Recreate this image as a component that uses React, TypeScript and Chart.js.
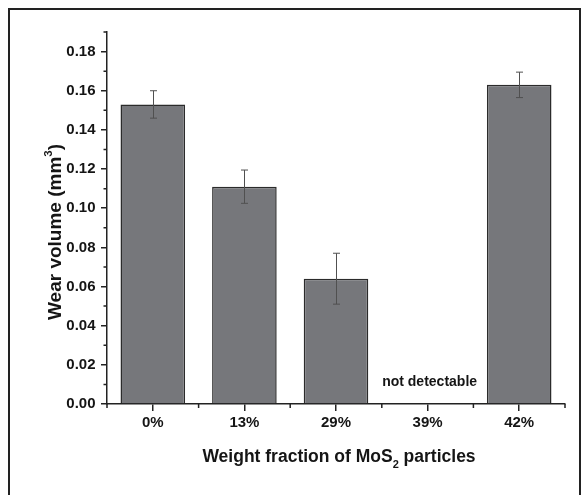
import React, { useEffect, useRef } from "react";
import { Chart, registerables } from "chart.js";

Chart.register(...registerables);

const CATEGORIES = ["0%", "13%", "29%", "39%", "42%"];
const WEAR_VOLUME: (number | null)[] = [0.153, 0.111, 0.064, null, 0.163];
const WEAR_ERROR: (number | null)[] = [0.007, 0.0085, 0.013, null, 0.0065];
const Y_TICKS = [0, 0.02, 0.04, 0.06, 0.08, 0.1, 0.12, 0.14, 0.16, 0.18];
const Y_MINOR_TICKS = [0.01, 0.03, 0.05, 0.07, 0.09, 0.11, 0.13, 0.15, 0.17, 0.19];
const Y_MIN = 0;
const Y_MAX = 0.19;
const NOTE_CATEGORY = 3;
const NOTE_TEXT = "not detectable";
const NOTE_VALUE = 0.009;

const FONT = "'Liberation Sans', Arial, Helvetica, sans-serif";
const INK = "#151515";
const AXIS = "#222222";

const errorBarPlugin = {
  id: "errorBars",
  afterDatasetsDraw(chart: any) {
    const { ctx, scales } = chart;
    const xs = scales.x;
    const ys = scales.y;
    ctx.save();
    ctx.strokeStyle = "#505050";
    ctx.lineWidth = 1;
    WEAR_VOLUME.forEach((v, i) => {
      const e = WEAR_ERROR[i];
      if (v == null || e == null) return;
      const x = Math.round(xs.getPixelForValue(i)) + 0.5;
      const yt = ys.getPixelForValue(v + e);
      const yb = ys.getPixelForValue(v - e);
      const cap = 3.5;
      ctx.beginPath();
      ctx.moveTo(x, yt);
      ctx.lineTo(x, yb);
      ctx.moveTo(x - cap, yt);
      ctx.lineTo(x + cap, yt);
      ctx.moveTo(x - cap, yb);
      ctx.lineTo(x + cap, yb);
      ctx.stroke();
    });
    ctx.restore();
  },
};

const decorPlugin = {
  id: "decor",
  afterDraw(chart: any) {
    const { ctx, scales, chartArea } = chart;
    const xs = scales.x;
    const ys = scales.y;
    ctx.save();
    // minor ticks on y axis
    ctx.strokeStyle = AXIS;
    ctx.lineWidth = 1.5;
    ctx.beginPath();
    Y_MINOR_TICKS.forEach((t) => {
      const y = ys.getPixelForValue(t);
      ctx.moveTo(chartArea.left - 3.5, y);
      ctx.lineTo(chartArea.left, y);
    });
    // minor ticks on x axis at category boundaries
    const n = CATEGORIES.length;
    const bounds: number[] = [chartArea.left];
    for (let i = 0; i < n - 1; i++) {
      bounds.push((xs.getPixelForValue(i) + xs.getPixelForValue(i + 1)) / 2);
    }
    bounds.push(chartArea.right);
    bounds.forEach((bx) => {
      ctx.moveTo(bx, chartArea.bottom);
      ctx.lineTo(bx, chartArea.bottom + 4);
    });
    ctx.stroke();

    // annotation
    ctx.fillStyle = INK;
    ctx.font = `bold 14px ${FONT}`;
    ctx.textAlign = "center";
    ctx.textBaseline = "alphabetic";
    ctx.fillText(NOTE_TEXT, xs.getPixelForValue(NOTE_CATEGORY) + 2, ys.getPixelForValue(NOTE_VALUE));

    // x title with subscript
    const big = `bold 17.5px ${FONT}`;
    const small = `bold 11px ${FONT}`;
    const xParts: [string, string, number][] = [
      ["Weight fraction of MoS", big, 0],
      ["2", small, 6],
      [" particles", big, 0],
    ];
    let total = 0;
    xParts.forEach(([t, f]) => {
      ctx.font = f;
      total += ctx.measureText(t).width;
    });
    let cx = (chartArea.left + chartArea.right) / 2 + 3 - total / 2;
    const baseY = chartArea.bottom + 58;
    ctx.textAlign = "left";
    xParts.forEach(([t, f, dy]) => {
      ctx.font = f;
      ctx.fillText(t, cx, baseY + dy);
      cx += ctx.measureText(t).width;
    });

    // y title with superscript, rotated
    const ybig = `bold 19px ${FONT}`;
    const ysmall = `bold 11.5px ${FONT}`;
    const yParts: [string, string, number][] = [
      ["Wear volume (mm", ybig, 0],
      ["3", ysmall, -9],
      [")", ybig, 0],
    ];
    let ytotal = 0;
    yParts.forEach(([t, f]) => {
      ctx.font = f;
      ytotal += ctx.measureText(t).width;
    });
    ctx.translate(61, (chartArea.top + chartArea.bottom) / 2 + 14);
    ctx.rotate(-Math.PI / 2);
    let px = -ytotal / 2;
    yParts.forEach(([t, f, dy]) => {
      ctx.font = f;
      ctx.fillText(t, px, dy);
      px += ctx.measureText(t).width;
    });
    ctx.restore();
  },
};

export default function App() {
  const ref = useRef<HTMLCanvasElement | null>(null);
  useEffect(() => {
    if (!ref.current) return;
    const chart = new Chart(ref.current, {
      type: "bar",
      data: {
        labels: CATEGORIES,
        datasets: [
          {
            data: WEAR_VOLUME as any,
            backgroundColor: "#76777b",
            borderColor: "#2b2b2b",
            borderWidth: 1.5,
            barPercentage: 0.705,
            categoryPercentage: 1,
          },
        ],
      },
      options: {
        responsive: false,
        animation: false,
        devicePixelRatio: 1,
        layout: { padding: { top: 32, right: 23, left: 0, bottom: 0 } },
        plugins: { legend: { display: false }, tooltip: { enabled: false } },
        scales: {
          x: {
            offset: true,
            afterFit: (s: any) => {
              s.height = 91;
            },
            grid: {
              display: true,
              drawOnChartArea: false,
              drawTicks: true,
              tickLength: 7,
              offset: false,
              color: AXIS,
              lineWidth: 1.5,
            },
            border: { display: true, color: AXIS, width: 1.5 },
            ticks: {
              padding: 3,
              color: INK,
              font: { family: FONT, size: 15, weight: "bold" },
              maxRotation: 0,
            },
          },
          y: {
            min: Y_MIN,
            max: Y_MAX,
            afterFit: (s: any) => {
              s.width = 107;
            },
            afterBuildTicks: (s: any) => {
              s.ticks = Y_TICKS.map((v) => ({ value: v }));
            },
            grid: {
              display: true,
              drawOnChartArea: false,
              drawTicks: true,
              tickLength: 6,
              color: AXIS,
              lineWidth: 1.5,
            },
            border: { display: true, color: AXIS, width: 1.5 },
            ticks: {
              padding: 5.5,
              color: INK,
              font: { family: FONT, size: 15, weight: "bold" },
              callback: (v: any) => Number(v).toFixed(2),
            },
          },
        },
      },
      plugins: [errorBarPlugin, decorPlugin],
    } as any);
    return () => chart.destroy();
  }, []);

  return (
    <div style={{ position: "fixed", left: 0, top: 0, width: 588, height: 495, overflow: "hidden", background: "#fff" }}>
      <canvas ref={ref} width={588} height={495} style={{ position: "absolute", left: 0, top: 0, display: "block" }} />
      <div
        style={{
          position: "absolute",
          left: 8,
          top: 8,
          width: 573,
          height: 520,
          boxSizing: "border-box",
          border: "2px solid #222",
          pointerEvents: "none",
        }}
      />
    </div>
  );
}
